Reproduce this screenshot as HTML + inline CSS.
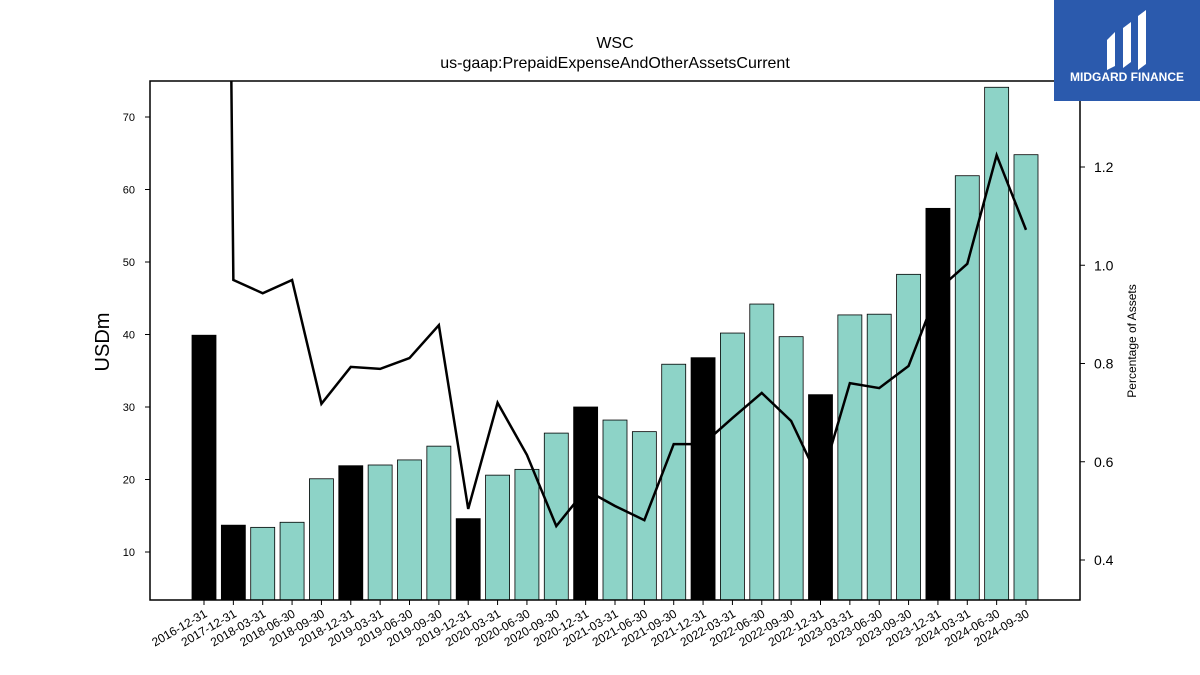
<!DOCTYPE html>
<html><head><meta charset="utf-8"><style>
body{margin:0;background:#fff;}
svg{display:block;font-family:"Liberation Sans","DejaVu Sans",sans-serif;}
</style></head><body>
<svg id="chart" width="1200" height="675" viewBox="0 0 1200 675">
<rect width="1200" height="675" fill="#fff"/>
<text x="615" y="48" text-anchor="middle" font-size="16">WSC</text>
<text x="615" y="68" text-anchor="middle" font-size="16">us-gaap:PrepaidExpenseAndOtherAssetsCurrent</text>
<g id="bars"></g>
<g id="line"></g>
<rect x="150" y="81" width="930" height="519" fill="none" stroke="#000" stroke-width="1.5"/>
<g id="yl"></g>
<g id="yr"></g>
<g id="xa"></g>
<text transform="translate(109,342) rotate(-90)" text-anchor="middle" font-size="20">USDm</text>
<text transform="translate(1136,341) rotate(-90)" text-anchor="middle" font-size="12">Percentage of Assets</text>
<g>
<rect x="1054" y="0" width="146" height="101" fill="#2b5aad"/>
<path d="M1107 40 L1115 32 L1115 66 L1107 70 Z M1123 28 L1131 22 L1131 62 L1123 68 Z M1138 16 L1146 10 L1146 64 L1138 70 Z" fill="#fff"/>
<text x="1127" y="81" text-anchor="middle" font-size="12" font-weight="bold" fill="#fff">MIDGARD FINANCE</text>
</g>
</svg>
<script>
const categories=["2016-12-31","2017-12-31","2018-03-31","2018-06-30","2018-09-30","2018-12-31","2019-03-31","2019-06-30","2019-09-30","2019-12-31","2020-03-31","2020-06-30","2020-09-30","2020-12-31","2021-03-31","2021-06-30","2021-09-30","2021-12-31","2022-03-31","2022-06-30","2022-09-30","2022-12-31","2023-03-31","2023-06-30","2023-09-30","2023-12-31","2024-03-31","2024-06-30","2024-09-30"];
const values=[39.9,13.7,13.4,14.1,20.1,21.9,22.0,22.7,24.6,14.6,20.6,21.4,26.4,30.0,28.2,26.6,35.9,36.8,40.2,44.2,39.7,31.7,42.7,42.8,48.3,57.4,61.9,74.1,64.8];
const ratios=[6.9,0.97,0.943,0.97,0.718,0.793,0.789,0.811,0.878,0.504,0.72,0.614,0.469,0.543,0.51,0.481,0.636,0.636,0.689,0.74,0.683,0.557,0.76,0.75,0.795,0.95,1.003,1.224,1.072];
const leftTicks=[10,20,30,40,50,60,70];
const rightTicks=[0.4,0.6,0.8,1.0,1.2];
const NS="http://www.w3.org/2000/svg";
const X0=150,X1=1080,Y0=81,Y1=600;
const xPos=i=>204+i*(822/(categories.length-1));
const yL=v=>624.5-v*7.25;
const yR=v=>167-(v-1.2)*491.25;
function mk(t,a,p){const e=document.createElementNS(NS,t);for(const k in a)e.setAttribute(k,a[k]);p.appendChild(e);return e;}
const bars=document.getElementById('bars');
values.forEach((v,i)=>{
 const black=categories[i].endsWith("12-31");
 const r=mk('rect',{x:xPos(i)-12,y:yL(v),width:24,height:Y1-yL(v),fill:black?'#000':'#8dd3c7',stroke:'#000','stroke-width':0.8},bars);
 
 
});
const lg=document.getElementById('line');
const cp=mk('clipPath',{id:'clp'},lg);mk('rect',{x:X0,y:Y0,width:X1-X0,height:Y1-Y0},cp);
const pl=mk('polyline',{points:ratios.map((v,i)=>xPos(i)+','+yR(v)).join(' '),fill:'none',stroke:'#000','stroke-width':2.5,'clip-path':'url(#clp)'},lg);


const yl=document.getElementById('yl');
leftTicks.forEach(t=>{const y=yL(t);mk('line',{x1:X0-5,x2:X0,y1:y,y2:y,stroke:'#000'},yl);
 const tx=mk('text',{x:X0-15,y:y+4,'text-anchor':'end','font-size':11},yl);tx.textContent=t;
 
 });
const yr=document.getElementById('yr');
rightTicks.forEach(t=>{const y=yR(t);mk('line',{x1:X1,x2:X1+5,y1:y,y2:y,stroke:'#000'},yr);
 const tx=mk('text',{x:X1+14,y:y+5,'font-size':14},yr);tx.textContent=t.toFixed(1);
 
 });
const xa=document.getElementById('xa');
categories.forEach((c,i)=>{const x=xPos(i);mk('line',{x1:x,x2:x,y1:Y1,y2:Y1+5,stroke:'#000'},xa);
 const tx=mk('text',{transform:`translate(${x+4},${Y1+16}) rotate(-30)`,'text-anchor':'end','font-size':12},xa);tx.textContent=c;
 
 });
</script>
</body></html>
